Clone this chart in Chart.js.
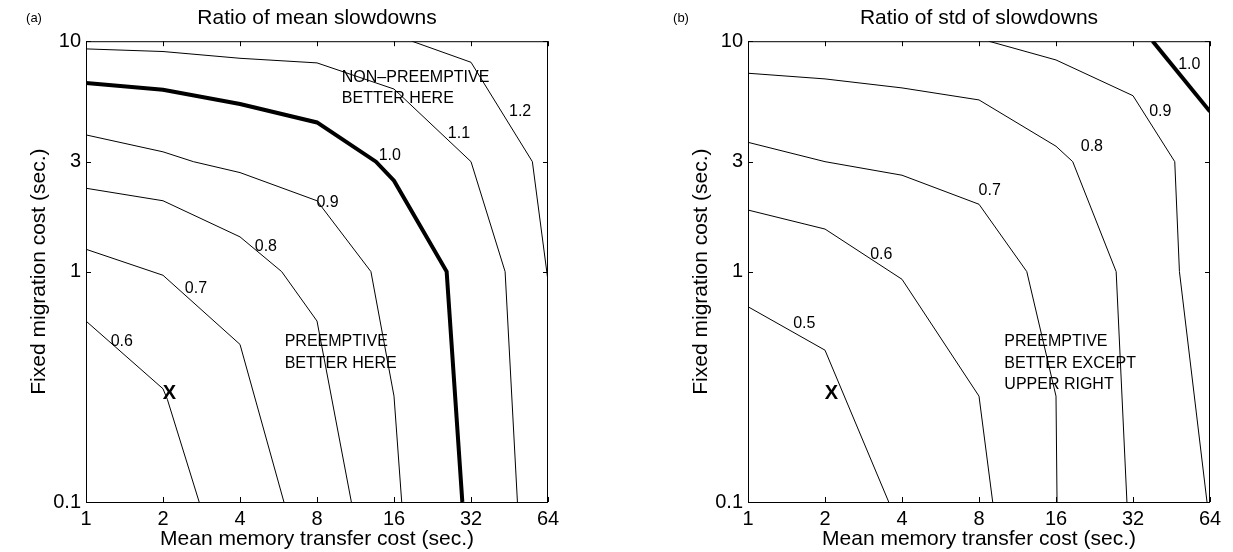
<!DOCTYPE html>
<html>
<head>
<meta charset="utf-8">
<script src="https://cdn.jsdelivr.net/npm/chart.js@4/dist/chart.umd.min.js"></script>
<style>
    body { margin: 0; background: #fff; }
    #wrap { position: relative; width: 1233px; height: 552px; }
    canvas { position: absolute; top: 0; }
</style>
</head>
<body>
<div id="wrap">
    <canvas id="meanChart" width="571" height="552" style="left:0px"></canvas>
    <canvas id="stdChart" width="571" height="552" style="left:662px"></canvas>
</div>
<script>
// Axis ticks
const xTicks = [1, 2, 4, 8, 16, 32, 64];
const yTicks = [0.1, 1, 3, 10];

// (a) Ratio of mean slowdowns - contour lines as [memory cost, migration cost]
const mean06 = [[1, 0.61], [2, 0.31], [2.08, 0.279], [2.77, 0.1]];
const mean07 = [[1, 1.25], [2, 0.964], [4, 0.483], [5.94, 0.1]];
const mean08 = [[1, 2.30], [2, 2.03], [4, 1.415], [5.82, 1], [8, 0.61], [10.9, 0.1]];
const mean09 = [[1, 3.92], [2, 3.31], [2.63, 3], [4, 2.69], [8, 2.03], [13.0, 1], [16, 0.288], [17.15, 0.1]];
const mean10 = [[1, 6.59], [2, 6.16], [4, 5.34], [8, 4.44], [13.6, 3], [16, 2.48], [25.7, 1], [29.6, 0.1]];
const mean11 = [[1, 9.26], [2, 9.02], [4, 8.43], [8, 8.05], [16, 6.2], [32, 3], [43.5, 1], [48.6, 0.1]];
const mean12 = [[18.8, 10], [32, 8.1], [55.6, 3], [64, 0.91]];
const meanTags = [['1.2', 49.8, 4.95], ['1.1', 28.7, 3.98], ['1.0', 15.4, 3.2], ['0.9', 8.8, 2.0],
                  ['0.8', 5.05, 1.28], ['0.7', 2.69, 0.84], ['0.6', 1.38, 0.496]];
const meanNotes = [['NON\u2013PREEMPTIVE', 10, 6.97], ['BETTER HERE', 10, 5.61],
                   ['PREEMPTIVE', 5.98, 0.496], ['BETTER HERE', 5.98, 0.40]];

// (b) Ratio of std of slowdowns
const std05 = [[1, 0.704], [2, 0.456], [3.55, 0.1]];
const std06 = [[1, 1.85], [2, 1.53], [4, 0.926], [8, 0.288], [9.05, 0.1]];
const std07 = [[1, 3.64], [2, 3], [4, 2.62], [8, 1.96], [12.3, 1], [16, 0.288], [16.15, 0.1]];
const std08 = [[1, 7.26], [2, 6.86], [4, 6.27], [8, 5.56], [16, 3.5], [18.6, 3], [27.5, 1], [30.3, 0.1]];
const std09 = [[8.73, 10], [16, 8.29], [32, 5.8], [46.6, 3], [48.6, 1], [62.3, 0.1]];
const std10 = [[38.2, 10], [64, 4.95]];
const stdTags = [['1.0', 53.1, 7.89], ['0.9', 40.9, 4.95], ['0.8', 22.1, 3.5], ['0.7', 8.81, 2.24],
                 ['0.6', 3.32, 1.18], ['0.5', 1.66, 0.596]];
const stdNotes = [['PREEMPTIVE', 10.05, 0.496], ['BETTER EXCEPT', 10.05, 0.40], ['UPPER RIGHT', 10.05, 0.324]];

// Starting point marker
const markX = [2.12, 0.296];

const FONT = "'Liberation Sans', Arial, Helvetica, sans-serif";
Chart.defaults.font.family = FONT;
Chart.defaults.color = '#000';

// Box, inward ticks and text annotations
const annotatePlugin = {
    id: 'annotate',
    afterDraw(chart, args, opts) {
        const { ctx, chartArea: a, scales: { x, y } } = chart;
        ctx.save();
        ctx.strokeStyle = '#000';
        ctx.lineWidth = 1;
        ctx.strokeRect(a.left + 0.5, a.top + 0.5, a.right - a.left - 1, a.bottom - a.top);

        ctx.beginPath();
        xTicks.forEach(v => {
            const px = Math.round(x.getPixelForValue(v)) + 0.5;
            ctx.moveTo(px, a.bottom); ctx.lineTo(px, a.bottom - 5);
            ctx.moveTo(px, a.top); ctx.lineTo(px, a.top + 5);
        });
        yTicks.forEach(v => {
            const py = Math.round(y.getPixelForValue(v)) + 0.5;
            ctx.moveTo(a.left, py); ctx.lineTo(a.left + 5, py);
            ctx.moveTo(a.right, py); ctx.lineTo(a.right - 5, py);
        });
        ctx.stroke();

        ctx.fillStyle = '#000';
        ctx.textBaseline = 'middle';
        ctx.font = '16px ' + FONT;
        ctx.textAlign = 'center';
        opts.tags.forEach(t => ctx.fillText(t[0], x.getPixelForValue(t[1]), y.getPixelForValue(t[2])));
        ctx.textAlign = 'left';
        opts.notes.forEach(t => ctx.fillText(t[0], x.getPixelForValue(t[1]), y.getPixelForValue(t[2])));

        ctx.font = 'bold 20px ' + FONT;
        ctx.textAlign = 'center';
        ctx.fillText('X', x.getPixelForValue(markX[0]), y.getPixelForValue(markX[1]));

        // panel letter
        ctx.font = '13px ' + FONT;
        ctx.fillText(opts.letter, opts.letterX, 18);
        ctx.restore();
    }
};

function makePanel(id, title, letter, letterX, lines, tags, notes) {
    const datasets = lines.map(l => ({
        data: l.pts.map(p => ({ x: p[0], y: p[1] })),
        showLine: true,
        borderColor: '#000',
        borderWidth: l.thick ? 4 : 1,
        pointRadius: 0,
        fill: false
    }));

    new Chart(document.getElementById(id), {
        type: 'scatter',
        data: { datasets },
        options: {
            responsive: false,
            animation: false,
            devicePixelRatio: 1,
            layout: { padding: { left: 0, right: 23, top: 0, bottom: 0 } },
            plugins: {
                legend: { display: false },
                tooltip: { enabled: false },
                title: {
                    display: true,
                    text: title,
                    fullSize: false,
                    font: { size: 21, weight: 'normal' },
                    padding: { top: 6, bottom: 10 }
                },
                annotate: { tags, notes, letter, letterX }
            },
            scales: {
                x: {
                    type: 'logarithmic',
                    min: 1, max: 64,
                    grid: { display: false, drawTicks: false },
                    border: { display: false },
                    afterBuildTicks: s => { s.ticks = xTicks.map(v => ({ value: v })); },
                    afterFit: s => { s.height = 50; },
                    ticks: {
                        autoSkip: false, maxRotation: 0, padding: 5,
                        font: { size: 20 },
                        callback: v => String(v)
                    },
                    title: {
                        display: true,
                        text: 'Mean memory transfer cost (sec.)',
                        font: { size: 21 },
                        padding: { top: 0, bottom: 0 }
                    }
                },
                y: {
                    type: 'logarithmic',
                    min: 0.1, max: 10,
                    grid: { display: false, drawTicks: false },
                    border: { display: false },
                    afterBuildTicks: s => { s.ticks = yTicks.map(v => ({ value: v })); },
                    afterFit: s => { s.width = 86; },
                    ticks: {
                        autoSkip: false, padding: 5,
                        font: { size: 20 },
                        callback: v => String(v)
                    },
                    title: {
                        display: true,
                        text: 'Fixed migration cost (sec.)',
                        font: { size: 21 },
                        padding: { top: 27, bottom: 0 }
                    }
                }
            }
        },
        plugins: [annotatePlugin]
    });
}

makePanel('meanChart', 'Ratio of mean slowdowns', '(a)', 34, [
    { pts: mean06 }, { pts: mean07 }, { pts: mean08 }, { pts: mean09 },
    { pts: mean10, thick: true }, { pts: mean11 }, { pts: mean12 }
], meanTags, meanNotes);

makePanel('stdChart', 'Ratio of std of slowdowns', '(b)', 19, [
    { pts: std05 }, { pts: std06 }, { pts: std07 }, { pts: std08 },
    { pts: std09 }, { pts: std10, thick: true }
], stdTags, stdNotes);
</script>
</body>
</html>
